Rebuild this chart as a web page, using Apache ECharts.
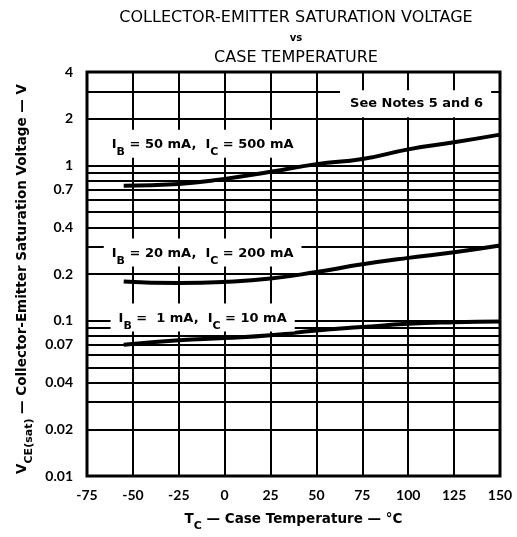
<!DOCTYPE html>
<html>
<head>
<meta charset="utf-8">
<script src="https://cdn.jsdelivr.net/npm/echarts@6/dist/echarts.min.js"></script>
<style>
html,body{margin:0;padding:0;background:#fff;}
#chart{width:517px;height:537px;}
</style>
</head>
<body>
<div id="chart"></div>
<script>
// ---- data ----
const temps = [-55, -25, 0, 25, 50, 75, 100, 125, 150];
const vce50mA = [0.74, 0.76, 0.82, 0.91, 1.02, 1.10, 1.27, 1.41, 1.58];
const vce20mA = [0.179, 0.175, 0.178, 0.187, 0.206, 0.231, 0.254, 0.276, 0.305];
const vce1mA = [0.070, 0.0748, 0.0773, 0.0805, 0.0866, 0.091, 0.0955, 0.0978, 0.099];
const yGridValues = [0.01,0.02,0.03,0.04,0.05,0.06,0.07,0.08,0.09,0.1,0.2,0.3,0.4,0.5,0.6,0.7,0.8,0.9,1,2,3,4];
const yTickLabels = [0.01,0.02,0.04,0.07,0.1,0.2,0.4,0.7,1,2,4];
const curveLabels = [
  {ib:'50', ic:'500', x:-12, y:1.38},
  {ib:'20', ic:'200', x:-12, y:0.275},
  {ib:' 1', ic:'10', x:-12, y:0.105}
];
const noteText = 'See Notes 5 and 6';
const notePos = [104, 2.5];

const TICKFONT = 'Lato, "DejaVu Sans", sans-serif';
const TXTFONT = '"DejaVu Sans", Lato, sans-serif';
const chart = echarts.init(document.getElementById('chart'), null, {renderer:'canvas'});

const rich = {
  m:{fontFamily:TXTFONT, fontSize:13, fontWeight:'bold', color:'#000'},
  s:{fontFamily:TXTFONT, fontSize:11, fontWeight:'bold', color:'#000', padding:[15,0,0,0]}
};
const richAxis = {
  m:{fontFamily:TXTFONT, fontSize:13.5, fontWeight:'bold', color:'#000'},
  s:{fontFamily:TXTFONT, fontSize:11, fontWeight:'bold', color:'#000', padding:[15,0,0,0]}
};

function curveText(c){
  return '{m|I}{s|B}{m| = ' + c.ib + ' mA,  I}{s|C}{m| = ' + c.ic + ' mA}';
}

const gridLineData = yGridValues.map(v => {
  const labelled = yTickLabels.indexOf(v) >= 0;
  return {
    yAxis:v,
    label:{show:labelled, position:'start', distance:14, formatter:String(v),
      fontFamily:TICKFONT, fontSize:14, fontWeight:'bold', color:'#000'}
  };
});

const option = {
  animation:false,
  backgroundColor:'#fff',
  grid:{left:87, right:17, top:72, bottom:55, show:true, borderColor:'#000', borderWidth:3, backgroundColor:'transparent'},
  xAxis:{
    type:'value', min:-75, max:150, interval:25,
    axisLine:{show:false}, axisTick:{show:false},
    splitLine:{show:true, lineStyle:{color:'#000', width:2}},
    axisLabel:{margin:12, fontFamily:TICKFONT, fontSize:14, fontWeight:'bold', color:'#000'},
    name:'{m|T}{s|C}{m| — Case Temperature — °C}',
    nameLocation:'middle', nameGap:30,
    nameTextStyle:{rich:richAxis}
  },
  yAxis:{
    type:'log', logBase:10, min:0.01, max:4,
    axisLine:{show:false}, axisTick:{show:false},
    splitLine:{show:false}, minorSplitLine:{show:false},
    axisLabel:{show:false}
  },
  graphic:[
    {type:'text', x:296, y:18, style:{text:'COLLECTOR-EMITTER SATURATION VOLTAGE', align:'center', verticalAlign:'middle', fontFamily:TXTFONT, fontSize:16, fill:'#000'}},
    {type:'text', x:296, y:38, style:{text:'vs', align:'center', verticalAlign:'middle', fontFamily:TXTFONT, fontSize:10, fontWeight:'bold', fill:'#000'}},
    {type:'text', x:296, y:58, style:{text:'CASE TEMPERATURE', align:'center', verticalAlign:'middle', fontFamily:TXTFONT, fontSize:16, fill:'#000'}},
    {type:'text', x:22, y:279, rotation:Math.PI/2, style:{
      text:'{m|V}{s|CE(sat)}{m| — Collector-Emitter Saturation Voltage — V}',
      align:'center', verticalAlign:'middle', rich:richAxis}}
  ],
  series:[
    {
      type:'line', data:[], z:1, silent:true,
      markLine:{silent:true, symbol:'none', animation:false,
        lineStyle:{color:'#000', width:2, type:'solid'},
        label:{show:false},
        data:gridLineData}
    },
    {type:'line', z:3, smooth:true, showSymbol:false, lineStyle:{color:'#000', width:4}, data:temps.map((t,i)=>[t, vce50mA[i]])},
    {type:'line', z:3, smooth:true, showSymbol:false, lineStyle:{color:'#000', width:4}, data:temps.map((t,i)=>[t, vce20mA[i]])},
    {type:'line', z:3, smooth:true, showSymbol:false, lineStyle:{color:'#000', width:4}, data:temps.map((t,i)=>[t, vce1mA[i]])},
    {
      type:'scatter', data:[], z:5, silent:true,
      markPoint:{silent:true, symbol:'rect', symbolSize:0, animation:false,
        data:curveLabels.map(c => ({
          coord:[c.x, c.y],
          label:{show:true, position:'inside', formatter:curveText(c), rich:rich,
            backgroundColor:'#fff', padding:[2,8,0,8]}
        })).concat([{
          coord:notePos,
          label:{show:true, position:'inside', formatter:noteText, fontFamily:TXTFONT, fontSize:13, fontWeight:'bold', color:'#000',
            backgroundColor:'#fff', padding:[7,8,7,10]}
        }])
      }
    }
  ]
};
chart.setOption(option);
</script>
</body>
</html>
